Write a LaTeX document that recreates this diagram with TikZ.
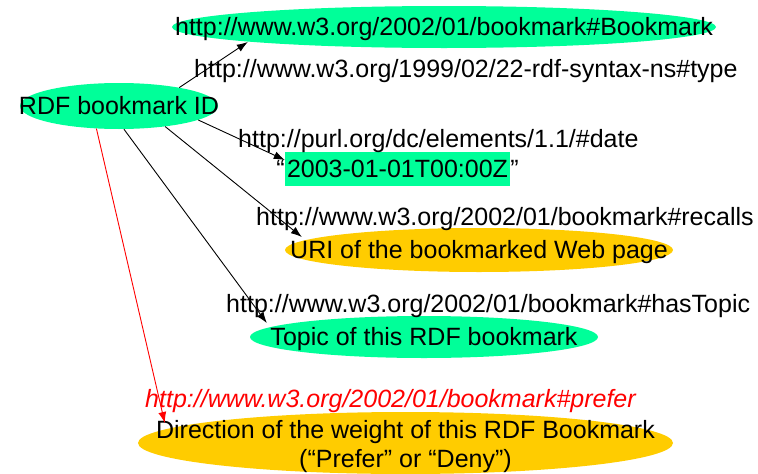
\documentclass[tikz,border=0pt]{standalone}
\usepackage{fontspec}
\setmainfont{Liberation Sans}
\usetikzlibrary{shapes.geometric,arrows.meta}
\definecolor{rgreen}{RGB}{0,255,153}
\definecolor{rorange}{RGB}{255,204,0}
\begin{document}
\begin{tikzpicture}[x=1pt,y=-1pt,
  txt/.style={font=\fontsize{25}{29}\selectfont, inner sep=0pt, text height=19pt, text depth=2pt},
  itxt/.style={txt, font=\fontsize{25}{29}\selectfont\itshape, text=red},
  oval/.style={ellipse, inner sep=0pt},
  link/.style={-{Latex[length=11pt,width=8pt]}, line width=0.9pt},
]
\useasboundingbox (0,0) rectangle (758,474);
% ellipses and boxes
\node[oval, fill=rgreen, minimum width=544pt, minimum height=42pt,
  label={[txt]center:http://www.w3.org/2002/01/bookmark\#Bookmark}] (bm) at (444,27) {};
\node[oval, fill=rgreen, minimum width=198pt, minimum height=46pt,
  label={[txt]center:RDF bookmark ID}] (rdf) at (119,106) {};
\node[txt, fill=rgreen, inner xsep=2pt, inner ysep=6.5pt] (date) at (397.5,169) {2003-01-01T00:00Z};
\node[txt, anchor=base east] (lq) at (date.base west) {“};
\node[txt, anchor=base west] (rq) at (date.base east) {”};
\node[oval, fill=rorange, minimum width=388pt, minimum height=44pt,
  label={[txt]center:URI of the bookmarked Web page}] (uri) at (479,250) {};
\node[oval, fill=rgreen, minimum width=348pt, minimum height=42pt,
  label={[txt]center:Topic of this RDF bookmark}] (topic) at (424,337) {};
\node[oval, fill=rorange, minimum width=535pt, minimum height=62pt,
  label={[font=\fontsize{25}{29}\selectfont, inner sep=0pt, align=center, yshift=-4pt]center:Direction of the weight of this RDF Bookmark\\(“Prefer” or “Deny”)}] (dir) at (405.5,443) {};
% property labels
\node[txt, anchor=base west] (ltype) at (194,77) {http://www.w3.org/1999/02/22-rdf-syntax-ns\#type};
\node[txt, anchor=base west] (ldate) at (238,147) {http://purl.org/dc/elements/1.1/\#date};
\node[txt, anchor=base west] (lrec) at (256,225) {http://www.w3.org/2002/01/bookmark\#recalls};
\node[txt, anchor=base west] (ltop) at (226,312) {http://www.w3.org/2002/01/bookmark\#hasTopic};
\node[itxt, anchor=base west] (lpref) at (145,407) {http://www.w3.org/2002/01/bookmark\#prefer};
% connectors
\draw[link] (rdf.17.8) -- ([xshift=76pt,yshift=-15pt]bm.west);
\draw[link] (rdf.-10.9) -- ([yshift=9pt]date.west);
\draw[link] (rdf.-24.5) -- ([xshift=17pt,yshift=13pt]uri.west);
\draw[link] (rdf.-78) -- ([xshift=17pt,yshift=14pt]topic.west);
\draw[link, red] (rdf.225) -- ([xshift=27pt,yshift=20pt]dir.west);
\end{tikzpicture}
\end{document}
